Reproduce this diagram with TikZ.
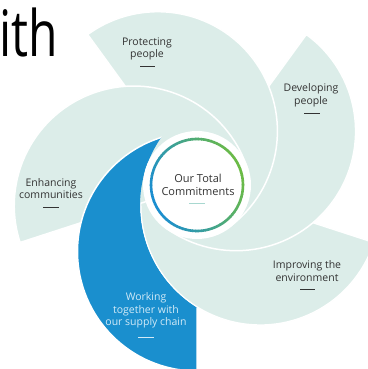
\documentclass[tikz,border=0pt]{standalone}
\usepackage{fontspec}
\setmainfont{Open Sans}
\usetikzlibrary{calc}
\definecolor{petal}{HTML}{DCEDE9}
\definecolor{petalblue}{HTML}{1A8FCE}
\definecolor{ringblue}{HTML}{1B8ED0}
\definecolor{ringgreen}{HTML}{6CBB45}
\definecolor{txt}{HTML}{333333}
\definecolor{bluetxt}{HTML}{D2EAF7}
\definecolor{centerdash}{HTML}{A8D8D0}
\begin{document}
\begin{tikzpicture}[x=1pt,y=1pt,
  petalshape/.style={fill=petal, draw=white, line width=1.5pt},
  bluepetal/.style={petalshape, fill=petalblue},
  label/.style={text=txt, align=center, inner sep=0pt, font=\fontsize{10.5}{12.5}\selectfont},
  dashline/.style={draw=txt, line width=0.9pt},
]
\useasboundingbox (0,0) rectangle (367,369);
\def\R{119.5}
\def\D{66.5}
\coordinate (C) at (197,184);
\coordinate (Pb) at ($(C)+(-90:\D)$);
\coordinate (Pe) at ($(C)+(-18:\D)$);
\coordinate (Pd) at ($(C)+(54:\D)$);
\coordinate (Pp) at ($(C)+(126:\D)$);
\coordinate (Pn) at ($(C)+(198:\D)$);
% petals
\path[bluepetal] ($(Pb)+(-90:\R)$) arc[start angle=-90, end angle=-270, radius=\R] -- cycle;
\path[petalshape] ($(Pe)+(-18:\R)$) arc[start angle=-18, end angle=-198, radius=\R] -- cycle;
\path[petalshape] ($(Pd)+(54:\R)$) arc[start angle=54, end angle=-126, radius=\R] -- cycle;
\path[petalshape] ($(Pp)+(126:\R)$) arc[start angle=126, end angle=-54, radius=\R] -- cycle;
\path[petalshape] ($(Pn)+(198:\R)$) arc[start angle=198, end angle=18, radius=\R] -- cycle;
% blue petal lies over the enhancing petal
\begin{scope}[even odd rule]
  \clip (-10,-10) rectangle (380,380) (Pe) circle[radius=\R+0.75];
  \path[bluepetal] ($(Pb)+(-90:\R)$) arc[start angle=-90, end angle=-270, radius=\R] -- cycle;
\end{scope}
% centre
\fill[white] (C) circle[radius=54];
\foreach \a in {0,4,...,356}{
  \pgfmathtruncatemacro\t{50+50*cos(\a-20)}
  \draw[line width=2.6pt, color=ringgreen!\t!ringblue] ($(C)+(\a:46)$) arc[start angle=\a, end angle=\a+4.6, radius=46];
}
% texts
\node[text=black, anchor=base west, inner sep=0pt, font=\fontsize{64}{64}\selectfont] (ith) at (-1,312) {\scalebox{0.75}[1]{ith}};
\node[label] (lprot) at (147,320) {Protecting\\people};
\draw[dashline] (140,303) -- (155,303);
\node[label] (ldev) at (311,273.5) {Developing\\people};
\draw[dashline] (304,256) -- (320,256);
\node[label] (lenh) at (51,180.5) {Enhancing\\communities};
\draw[dashline] (43,162) -- (59,162);
\node[label, font=\fontsize{11}{13}\selectfont] (lctr) at (198,184) {Our Total\\Commitments};
\draw[draw=centerdash, line width=1pt] (189,165) -- (205,165);
\node[label] (lenv) at (307,98) {Improving the\\environment};
\draw[dashline] (300,80) -- (315,80);
\node[label, text=bluetxt] (lwork) at (146,58.5) {Working\\together with\\our supply chain};
\draw[draw=bluetxt, line width=0.9pt] (138,32) -- (154,32);
\end{tikzpicture}
\end{document}
